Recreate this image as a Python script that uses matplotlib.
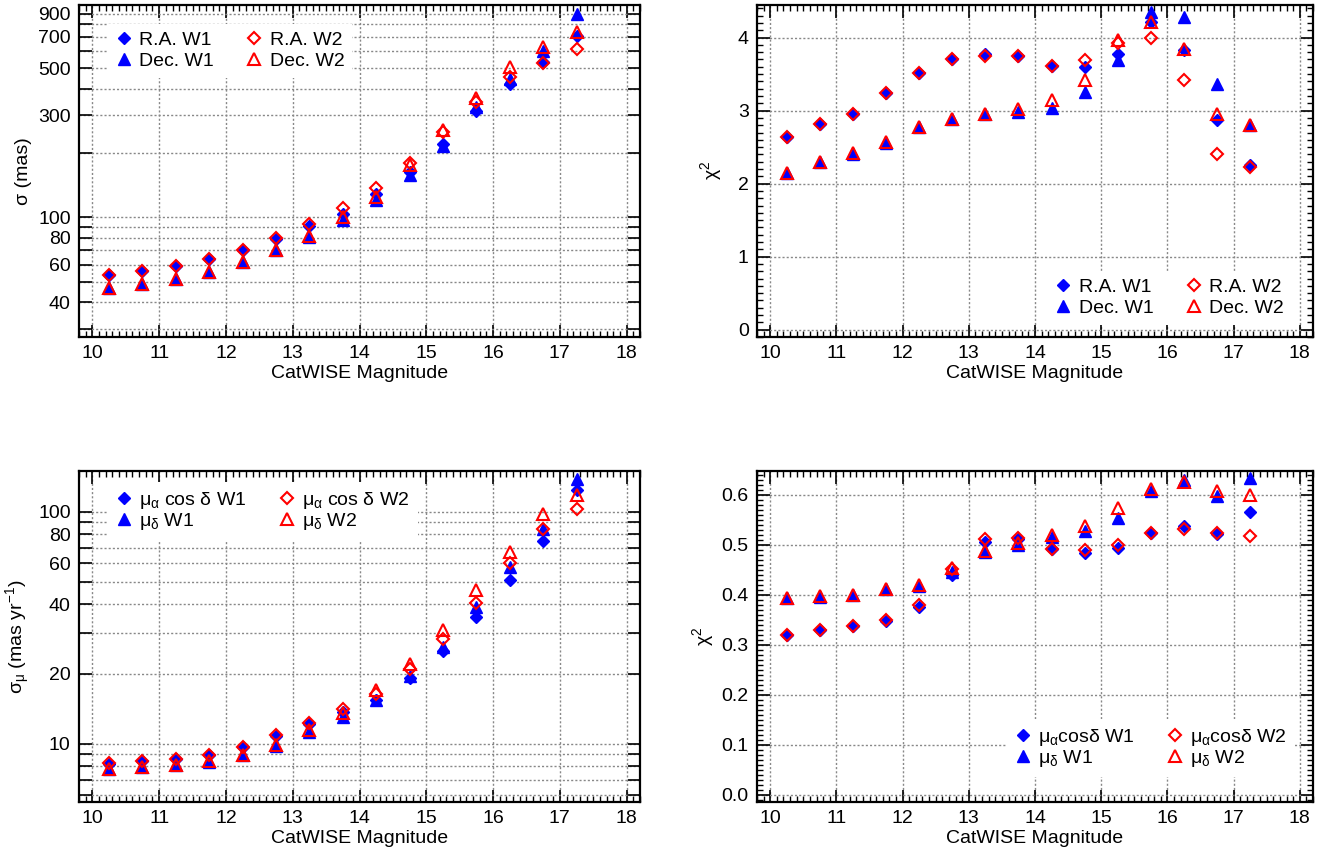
import matplotlib
matplotlib.use("Agg")
import matplotlib.pyplot as plt
from matplotlib.ticker import FixedLocator, FuncFormatter, MultipleLocator

plt.rcParams['font.family'] = ['Liberation Sans', 'DejaVu Sans']
plt.rcParams['mathtext.fontset'] = 'custom'
plt.rcParams['mathtext.rm'] = 'Liberation Sans'
plt.rcParams['mathtext.it'] = 'Liberation Sans:italic'
plt.rcParams['font.size'] = 14

# ---------------- data ----------------
mag = [10.25, 10.75, 11.25, 11.75, 12.25, 12.75, 13.25, 13.75,
       14.25, 14.75, 15.25, 15.75, 16.25, 16.75, 17.25]

# position uncertainty (mas)
sig_ra_w1 = [53.7, 56.2, 59.1, 63.5, 70.2, 79.3, 90.9, 104, 129, 163, 220, 313, 421, 535, 710]
sig_dec_w1 = [46.5, 48.7, 51.2, 55.6, 62, 70.2, 81, 96.9, 120, 157, 215, 327, 445, 600, 893]
sig_ra_w2 = [53.7, 56.2, 59.1, 63.5, 70.2, 79.9, 92.8, 111, 137, 180, 250, 346, 456, 530, 614]
sig_dec_w2 = [46.5, 48.7, 51.5, 55.6, 62, 70.5, 82, 99.8, 125, 175, 257, 362, 504, 628, 734]

# position chi^2
chi_ra_w1 = [2.64, 2.81, 2.96, 3.24, 3.52, 3.71, 3.78, 3.75, 3.61, 3.60, 3.78, 4.21, 3.83, 2.87, 2.25]
chi_dec_w1 = [2.15, 2.29, 2.41, 2.56, 2.77, 2.88, 2.96, 2.98, 3.04, 3.26, 3.69, 4.35, 4.28, 3.36, 2.80]
chi_ra_w2 = [2.64, 2.81, 2.96, 3.24, 3.52, 3.71, 3.75, 3.75, 3.61, 3.69, 3.92, 4.00, 3.42, 2.41, 2.23]
chi_dec_w2 = [2.15, 2.30, 2.42, 2.57, 2.78, 2.89, 2.96, 3.02, 3.14, 3.42, 3.96, 4.21, 3.84, 2.96, 2.80]

# proper motion uncertainty (mas/yr)
pm_ra_w1 = [8.2, 8.39, 8.61, 8.9, 9.67, 10.76, 12.2, 13.7, 15.5, 19.1, 25.1, 35.2, 51.0, 75, 124]
pm_dec_w1 = [7.8, 7.9, 8.06, 8.33, 8.9, 9.8, 11.2, 13.0, 15.4, 19.5, 26.2, 38.9, 57.9, 84.6, 139]
pm_ra_w2 = [8.25, 8.4, 8.6, 8.96, 9.67, 10.86, 12.3, 14.15, 16.4, 20.9, 28.4, 40.5, 59.9, 84.6, 102.5]
pm_dec_w2 = [7.8, 7.9, 8.06, 8.4, 8.96, 9.9, 11.4, 13.5, 17.0, 22.1, 30.8, 45.9, 67.1, 97.5, 118]

# proper motion chi^2
pchi_ra_w1 = [0.319, 0.329, 0.337, 0.348, 0.376, 0.440, 0.506, 0.511, 0.492, 0.483, 0.493, 0.523, 0.538, 0.522, 0.565]
pchi_dec_w1 = [0.393, 0.396, 0.399, 0.411, 0.417, 0.446, 0.486, 0.500, 0.515, 0.528, 0.553, 0.607, 0.630, 0.597, 0.633]
pchi_ra_w2 = [0.319, 0.329, 0.338, 0.349, 0.379, 0.451, 0.511, 0.513, 0.492, 0.490, 0.500, 0.524, 0.531, 0.523, 0.518]
pchi_dec_w2 = [0.393, 0.398, 0.400, 0.411, 0.420, 0.453, 0.488, 0.503, 0.520, 0.538, 0.573, 0.611, 0.625, 0.607, 0.600]

xlabel = 'CatWISE Magnitude'
lab_pos = ['R.A. W1', 'Dec. W1', 'R.A. W2', 'Dec. W2']
lab_pm_l = [r'μ$_\mathregular{α}$ cos δ W1', r'μ$_\mathregular{δ}$ W1',
            r'μ$_\mathregular{α}$ cos δ W2', r'μ$_\mathregular{δ}$ W2']
lab_pm_r = [r'μ$_\mathregular{α}$cosδ W1', r'μ$_\mathregular{δ}$ W1',
            r'μ$_\mathregular{α}$cosδ W2', r'μ$_\mathregular{δ}$ W2']

grid_tl = [30, 40, 50, 60, 70, 80, 90, 100, 200, 300, 400, 500, 600, 700, 800, 900]
lab_tl = [40, 60, 80, 100, 300, 500, 700, 900]
grid_bl = [6, 7, 8, 9, 10, 20, 30, 40, 50, 60, 70, 80, 90, 100]
lab_bl = [10, 20, 40, 60, 80, 100]

# ---------------- style ----------------
BLUE = '#0000ff'
RED = '#ff0000'
D_MS = 6.5
T_MS = 9.0
MEW = 1.5

fig = plt.figure(figsize=(13.3, 8.58), dpi=100)
W = 1330.0
H = 858.0


def mkax(l, r, t, b):
    return fig.add_axes([l / W, 1 - b / H, (r - l) / W, (b - t) / H])


ax_tl = mkax(79, 640, 4.7, 337)
ax_tr = mkax(757, 1313, 4.7, 337)
ax_bl = mkax(79, 640, 471, 802)
ax_br = mkax(757, 1313, 471, 802)


def plot_set(ax, a, b, c, d):
    h1, = ax.plot(mag, a, ls='none', marker='D', ms=D_MS, color=BLUE, mec=BLUE, zorder=3)
    h2, = ax.plot(mag, b, ls='none', marker='^', ms=T_MS, color=BLUE, mec=BLUE, zorder=3)
    h3, = ax.plot(mag, c, ls='none', marker='D', ms=D_MS, mfc='none', mec=RED, mew=MEW, zorder=4)
    h4, = ax.plot(mag, d, ls='none', marker='^', ms=T_MS, mfc='none', mec=RED, mew=MEW, zorder=4)
    return [h1, h2, h3, h4]


def style(ax):
    ax.set_xlim(9.8, 18.2)
    ax.xaxis.set_major_locator(MultipleLocator(1))
    ax.xaxis.set_minor_locator(MultipleLocator(0.1))
    ax.tick_params(which='both', direction='in', top=True, right=True, labelsize=14, pad=6)
    ax.tick_params(which='major', length=9, width=1.2)
    ax.tick_params(which='minor', length=4.5, width=1.0)
    ax.grid(True, which='major', color='#888888', linestyle=(0, (1.5, 1.5)), linewidth=1.0)
    for s in ax.spines.values():
        s.set_linewidth(1.6)
    ax.set_xlabel(xlabel, fontsize=14, labelpad=2)


def log_axis(ax, lo, hi, grid_vals, lab_vals):
    ax.set_yscale('log')
    ax.set_ylim(lo, hi)
    ax.yaxis.set_major_locator(FixedLocator(grid_vals))
    ax.yaxis.set_minor_locator(FixedLocator([]))
    ax.yaxis.set_major_formatter(FuncFormatter(
        lambda v, p: ('%d' % round(v)) if any(abs(v - q) < 1e-6 for q in lab_vals) else ''))


def legend(ax, handles, labels, loc, anchor, lsp=0.15):
    leg = ax.legend(handles, labels, loc=loc, bbox_to_anchor=anchor, ncol=2,
                    fontsize=14, frameon=True, fancybox=False, framealpha=1,
                    facecolor='white', edgecolor='none', handlelength=0.9,
                    handletextpad=0.35, columnspacing=1.6, labelspacing=lsp,
                    borderpad=0.4, borderaxespad=0.3, numpoints=1)
    leg.set_zorder(5)
    return leg


# top-left
h = plot_set(ax_tl, sig_ra_w1, sig_dec_w1, sig_ra_w2, sig_dec_w2)
style(ax_tl)
log_axis(ax_tl, 27.5, 990, grid_tl, lab_tl)
ax_tl.set_ylabel('σ (mas)', fontsize=14, labelpad=4)
legend(ax_tl, h, lab_pos, 'upper left', (0.04, 0.96))

# top-right
h = plot_set(ax_tr, chi_ra_w1, chi_dec_w1, chi_ra_w2, chi_dec_w2)
style(ax_tr)
ax_tr.set_ylim(-0.1, 4.45)
ax_tr.yaxis.set_major_locator(MultipleLocator(1))
ax_tr.yaxis.set_minor_locator(MultipleLocator(0.1))
ax_tr.set_ylabel(r'χ$^2$', fontsize=14, labelpad=10)
legend(ax_tr, h, lab_pos, 'lower right', (0.972, 0.02))

# bottom-left
h = plot_set(ax_bl, pm_ra_w1, pm_dec_w1, pm_ra_w2, pm_dec_w2)
style(ax_bl)
log_axis(ax_bl, 5.6, 150, grid_bl, lab_bl)
ax_bl.set_ylabel(r'σ$_\mathregular{μ}$ (mas yr$^{-1}$)', fontsize=14, labelpad=4)
legend(ax_bl, h, lab_pm_l, 'upper left', (0.04, 0.985), lsp=0.02)

# bottom-right
h = plot_set(ax_br, pchi_ra_w1, pchi_dec_w1, pchi_ra_w2, pchi_dec_w2)
style(ax_br)
ax_br.set_ylim(-0.015, 0.648)
ax_br.yaxis.set_major_locator(MultipleLocator(0.1))
ax_br.yaxis.set_minor_locator(MultipleLocator(0.01))
ax_br.yaxis.set_major_formatter(FuncFormatter(lambda v, p: '%.1f' % v))
ax_br.set_ylabel(r'χ$^2$', fontsize=14, labelpad=4)
legend(ax_br, h, lab_pm_r, 'lower right', (0.978, 0.058), lsp=0.02)

fig.savefig('out.png', dpi=100)
